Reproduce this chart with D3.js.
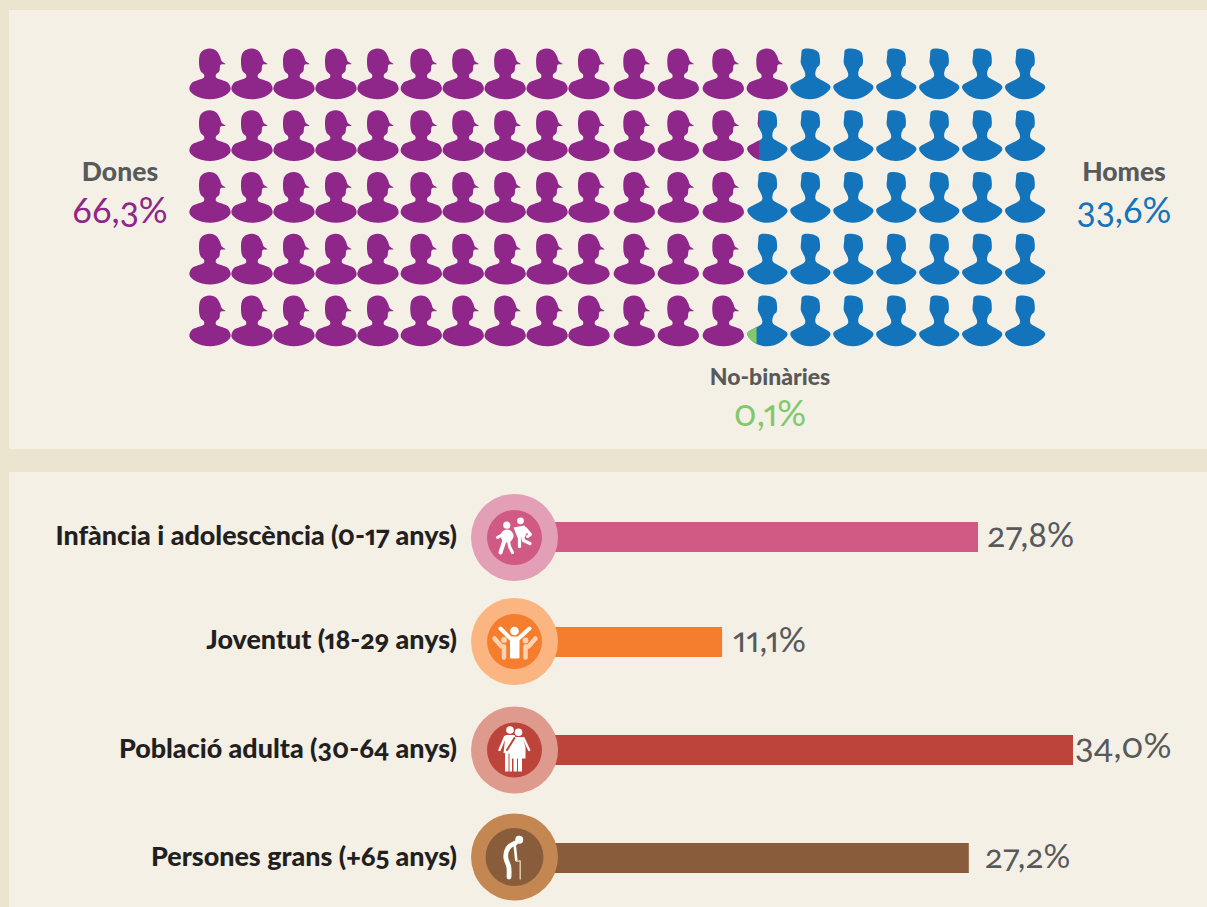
<!DOCTYPE html>
<html><head><meta charset="utf-8">
<script src="https://cdn.jsdelivr.net/npm/d3@7"></script>
<style>
html,body{margin:0;padding:0;background:#ebe5cf;}
svg{display:block;}
.lab{font-family:"Lato",sans-serif;font-weight:900;font-feature-settings:"onum" 1,"pnum" 1;}
.val{font-family:"Lato",sans-serif;font-weight:400;font-feature-settings:"onum" 1,"pnum" 1;}
</style></head><body><div id="c"></div>
<script>
// Waffle: 5 rows x 20 columns, each head = 1%
const rows = [0,1,2,3,4];
const cols = d3.range(20);
const womenPerRow = [14, 13.3, 13, 13, 13];
const nonBinaryPerRow = [0, 0, 0, 0, 0.24];
const genderLabels = ["Dones","Homes","No-binàries"];
const genderValues = ["66,3%","33,6%","0,1%"];
// Bars
const ageGroups = ["Infància i adolescència (0-17 anys)","Joventut (18-29 anys)","Població adulta (30-64 anys)","Persones grans (+65 anys)"];
const ageValues = [27.8, 11.1, 34.0, 27.2];
const ageLabels = ["27,8%","11,1%","34,0%","27,2%"];
const barColors = ["#d05a84","#f57d2e","#bd443b","#895d3b"];
const ringColors = ["#e29fb5","#fbb580","#de9a8c","#c48751"];

const W=1207,H=907;
const svg=d3.select("#c").append("svg").attr("width",W).attr("height",H);
const PURPLE="#8f2689",BLUE="#1374bb",GREEN="#82c86a",GREY="#58595b",DARK="#231f20";
svg.append("rect").attr("x",9).attr("y",10).attr("width",W-9).attr("height",439).attr("fill","#f4f0e6");
svg.append("rect").attr("x",9).attr("y",472).attr("width",W-9).attr("height",435).attr("fill","#f4f0e6");

// piecewise: the heads are not evenly spaced in the reference
const x=d3.scaleLinear().domain([0,4,5,9,10,11,12,13,19]).range([210,378,421.3,589,634.3,678.3,723.3,767.3,1025]);
const y=d3.scalePoint().domain(rows).range([48.5,295.5]);

const line=d3.line().curve(d3.curveCatmullRomClosed.alpha(0.7));
const femaleShape=[[0,0],[6,2],[10,8],[11.6,12.5],[15.5,15.6],[10.7,16.2],[9.3,22.7],[6,26],[6,29],[12,31.5],[18.3,34.6],[20.6,41],[15,47],[0,50.8],[-15,47],[-20.6,41],[-18.3,34.6],[-12,31.5],[-6,29],[-6,26],[-9.3,22.7],[-11,14.3],[-9.3,4.3],[-5,1]];
const maleShape=[[-8,1.3],[-0.3,0.2],[8,3.4],[9.7,10.3],[9,17],[7,18.7],[5,25.3],[5.7,28],[13,32.5],[19.3,36.6],[20.3,38.7],[11.3,47.8],[0,50.8],[-12,47.8],[-20,38.7],[-19.3,36.6],[-12.5,32.5],[-5.3,28],[-5,25.3],[-7.7,18.7],[-9.3,15.3],[-9,7]];
const femaleD=line(femaleShape), maleD=line(maleShape);

const defs=svg.append("defs");
const waffle=svg.append("g");
rows.forEach(r=>{
  const w=womenPerRow[r], nb=nonBinaryPerRow[r];
  cols.forEach(c=>{
    const g=waffle.append("g").attr("transform",`translate(${x(c)},${y(r)})`);
    if(c+1<=w){ g.append("path").attr("d",femaleD).attr("fill",PURPLE); return; }
    if(c>=w+nb){ g.append("path").attr("d",maleD).attr("fill",BLUE); return; }
    const cut=(w>c?w-c:nb)*42.8-21;
    const id=`cut${r}_${c}`;
    defs.append("clipPath").attr("id",id).append("rect").attr("x",-22).attr("y",-1).attr("width",cut+22).attr("height",54);
    g.append("path").attr("d",maleD).attr("fill",BLUE);
    g.append("path").attr("d",maleD).attr("fill",w>c?PURPLE:GREEN).attr("clip-path",`url(#${id})`);
  });
});

function lab(t,xx,yy,size,anchor,fill){return svg.append("text").attr("class","lab").attr("x",xx).attr("y",yy).attr("font-size",size).attr("text-anchor",anchor).attr("fill",fill).text(t);}
function val(t,xx,yy,size,anchor,fill){return svg.append("text").attr("class","val").attr("x",xx).attr("y",yy).attr("font-size",size).attr("text-anchor",anchor).attr("fill",fill).text(t);}
lab(genderLabels[0],120,181,26.5,"middle",GREY);
val(genderValues[0],120,223,36,"middle",PURPLE);
lab(genderLabels[1],1124,181,26.5,"middle",GREY);
val(genderValues[1],1124,223,36,"middle",BLUE);
lab(genderLabels[2],770,385,23,"middle",GREY);
val(genderValues[2],770,426,36,"middle",GREEN);

// Bars
const bx=d3.scaleLinear().domain([0,34]).range([552,1073]);
const rowY=[537,642,750,858];
const circY=[537.5,641.5,750,857];
const innerR=[27.5,27.5,27.5,29];
const gaps=[9,11,2,16];
const valSize=[34,34,35,33.5];
ageGroups.forEach((name,i)=>{
  svg.append("rect").attr("x",bx(0)).attr("y",rowY[i]-15).attr("width",bx(ageValues[i])-bx(0)).attr("height",30).attr("fill",barColors[i]);
  svg.append("circle").attr("cx",514.5).attr("cy",circY[i]).attr("r",43.5).attr("fill",ringColors[i]);
  svg.append("circle").attr("cx",514.5).attr("cy",circY[i]).attr("r",innerR[i]).attr("fill",barColors[i]);
  lab(name,457,rowY[i]+8-(i==1?1:0),26.9,"end",DARK);
  val(ageLabels[i],bx(ageValues[i])+gaps[i],rowY[i]+(i==2?8:10),valSize[i],"start",GREY);
});

const lin=d3.line(), soft=d3.line().curve(d3.curveBasis);
function stroke(g,pts,sw,col,gen){
  g.append("path").attr("d",(gen||lin)(pts)).attr("fill","none").attr("stroke",col).attr("stroke-width",sw).attr("stroke-linecap","round").attr("stroke-linejoin","round");
}
function fillP(g,pts,col){g.append("path").attr("d",lin(pts)+"Z").attr("fill",col);}
function dot(g,cx,cy,r,col){g.append("circle").attr("cx",cx).attr("cy",cy).attr("r",r).attr("fill",col);}
const W1="#fff";
// children
let g=svg.append("g").attr("transform",`translate(514.5,${circY[0]})`);
dot(g,-7.7,-12.3,3.6,W1);
g.append("ellipse").attr("cx",-7.5).attr("cy",-1.5).attr("rx",6.5).attr("ry",6.5).attr("fill",W1);
stroke(g,[[-12,-3],[-17,0]],3,W1);
stroke(g,[[-10,3],[-12,9],[-14,15]],4,W1);
stroke(g,[[-6,3],[-5,9],[-2,15]],3,W1);
dot(g,6,-16.7,3.4,W1);
fillP(g,[[-1,-10],[10,-12],[13,-6],[10,0],[3,0]],W1);
stroke(g,[[11,-9],[16,-3],[13,-1]],3,W1);
stroke(g,[[5,-2],[5,9]],3.2,W1);
stroke(g,[[8,-2],[9,3],[15.5,6]],3.2,W1);
// youth
g=svg.append("g").attr("transform",`translate(514.5,${circY[1]})`);
const PALE="#fcd3b2";
dot(g,-10.5,-1.5,2.9,PALE); dot(g,11,-1,2.9,PALE);
stroke(g,[[-20,-3],[-13,5],[-10.5,5],[-10.5,16]],4.5,PALE);
stroke(g,[[21,-3],[14,5],[11,5],[11,16]],4.5,PALE);
dot(g,0,-10.5,4.3,W1);
stroke(g,[[-14,-13],[-4,-3],[4,-3],[15,-13]],4,W1);
g.append("rect").attr("x",-4.5).attr("y",-4).attr("width",9.5).attr("height",21).attr("rx",1).attr("fill",W1);
// adults
g=svg.append("g").attr("transform",`translate(514.5,${circY[2]})`);
dot(g,-4.5,-20,3.8,W1);
fillP(g,[[-9,-15],[0,-15],[3,-9],[-2.5,1],[-2.5,21.5],[-9.5,21.5],[-9.5,3],[-11,3]],W1);
stroke(g,[[-9.5,-13],[-15,0]],2.4,W1);
dot(g,4,-17.7,3.8,W1);
fillP(g,[[0,-13],[8,-13],[11,-3],[11,8.5],[7.5,8.5],[7.5,21.5],[-1,21.5],[-1,8.5],[-5,8.5],[-1,-5]],W1);
stroke(g,[[9,-12],[14.7,0]],2.2,W1);
stroke(g,[[0,-12],[-7.5,0]],2,barColors[2]);
stroke(g,[[3,9],[3,21.5]],1,barColors[2]);
stroke(g,[[-5.5,4],[-5.5,21.5]],1,barColors[2]);
// elderly
g=svg.append("g").attr("transform",`translate(514.5,${circY[3]})`);
dot(g,4.7,-17.3,4,W1);
stroke(g,[[1,-14],[-8,-10],[-9.5,3],[-5,8],[-5.5,20]],4.8,W1,soft);
stroke(g,[[0,-13],[1,-5],[1.7,3]],2.6,W1,soft);
stroke(g,[[2,4],[5.7,4],[5.7,22]],1.4,"#e2cfba");
</script></body></html>
